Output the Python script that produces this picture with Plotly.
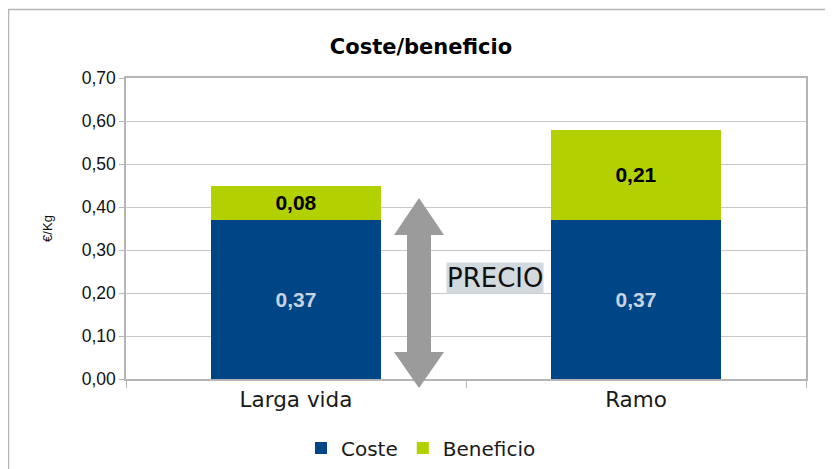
import plotly.graph_objects as go

categories = ["Larga vida", "Ramo"]
coste = [0.37, 0.37]
beneficio = [0.08, 0.21]
y_ticks = [0.0, 0.1, 0.2, 0.3, 0.4, 0.5, 0.6, 0.7]

# page body has an 8px margin: figure coordinates = screen coordinates - 8
OFF = 8
W, H = 833 - OFF, 469 - OFF
L, T = 126 - OFF, 78 - OFF
R = W - (806 - OFF)
B = H - (379 - OFF)
pw, ph = W - L - R, H - T - B

def px(x):
    return (x - OFF - L) / pw

def py(y):
    return (H - B - (y - OFF)) / ph

GOTHIC = "DejaVu Sans"
ARIAL = "Liberation Sans"

fig = go.Figure()
fig.add_trace(go.Bar(
    x=categories, y=coste, name="Coste",
    marker=dict(color="#004586", line=dict(width=0)),
    texttemplate="<b>%{y:.2f}</b>", textposition="inside", insidetextanchor="middle",
    textfont=dict(family=ARIAL, size=21, color="#c6d3e0"),
))
fig.add_trace(go.Bar(
    x=categories, y=beneficio, name="Beneficio",
    marker=dict(color="#b3d000", line=dict(width=0)),
    texttemplate="<b>%{y:.2f}</b>", textposition="inside", insidetextanchor="middle",
    textfont=dict(family=ARIAL, size=21, color="#000000"),
))

# double arrow (PRECIO)
cx = px(419)
hw = 25 / pw
sw = 12 / pw
yt, yhb, ybb, yb = py(198), py(235), py(352), py(388)
path = (f"M {cx} {yt} L {cx+hw} {yhb} L {cx+sw} {yhb} L {cx+sw} {ybb} L {cx+hw} {ybb} "
        f"L {cx} {yb} L {cx-hw} {ybb} L {cx-sw} {ybb} L {cx-sw} {yhb} L {cx-hw} {yhb} Z")
fig.add_shape(type="path", path=path, xref="paper", yref="paper",
              fillcolor="#9b9b9b", line=dict(width=0), layer="above")

# outer border
fig.add_shape(type="rect", xref="paper", yref="paper",
              x0=px(8.5), y0=py(490), x1=px(850), y1=py(9.5),
              line=dict(color="#b5b5b5", width=1.5), fillcolor="rgba(0,0,0,0)")

fig.add_annotation(text="PRECIO", xref="paper", yref="paper",
                   x=px(494.5), y=py(277.5), showarrow=False,
                   font=dict(family=GOTHIC, size=26, color="#111111"),
                   bgcolor="#d3dadd", borderpad=0)

fig.update_layout(
    width=W, height=H,
    margin=dict(l=L, r=R, t=T, b=B, autoexpand=False),
    barmode="stack", bargap=0.5,
    separators=",.",
    paper_bgcolor="white", plot_bgcolor="white",
    title=dict(text="<b>Coste/beneficio</b>", x=(421 - OFF) / W, xanchor="center",
               y=1 - (47 - OFF) / H, yanchor="middle",
               font=dict(family=GOTHIC, size=21, color="#000000")),
    showlegend=True,
    legend=dict(orientation="h", x=px(421), xanchor="center", y=py(448), yanchor="middle",
                font=dict(family=GOTHIC, size=20, color="#1a1a1a"),
                itemwidth=30, traceorder="normal", itemsizing="constant"),
    font=dict(family=ARIAL),
)
fig.update_yaxes(
    range=[0, 0.7], tickvals=y_ticks, tickformat=".2f",
    showgrid=True, gridcolor="#c8c8c8", gridwidth=1,
    showline=True, linecolor="#b5b5b5", linewidth=1.5, mirror=True,
    ticks="outside", ticklen=5, tickcolor="#b5b5b5",
    tickfont=dict(family=ARIAL, size=17.5, color="#111111"),
    title=dict(text="€/Kg", font=dict(family=ARIAL, size=13, color="#111111"), standoff=26),
    zeroline=False, automargin=False,
)
fig.update_xaxes(
    showline=True, linecolor="#b5b5b5", linewidth=1.5, mirror=True,
    ticks="outside", ticklen=7, tickcolor="#b5b5b5", tickson="boundaries",
    tickfont=dict(family=GOTHIC, size=21.5, color="#1a1a1a"),
    automargin=False,
)

fig.write_html("out.html")
